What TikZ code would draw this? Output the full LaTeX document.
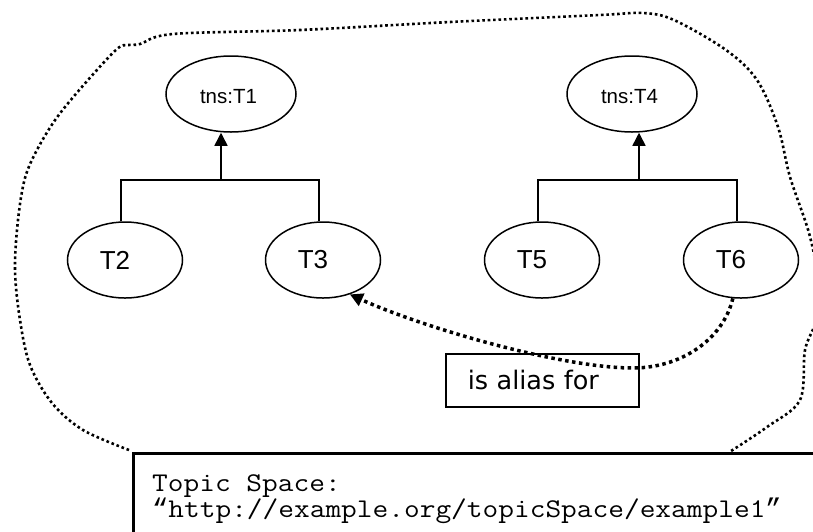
\documentclass[tikz,border=0pt]{standalone}
\usepackage{fontspec}
\usetikzlibrary{shapes.geometric,arrows.meta}
\newfontfamily\arialf{Liberation Sans}
\newfontfamily\verdf{DejaVu Sans}
\newfontfamily\courf[FakeStretch=1.13]{Latin Modern Mono}
\newfontfamily\quotef{Liberation Mono}
\newcommand{\myopenq}{{\quotef “}}
\newcommand{\mycloseq}{{\quotef ”}}
\begin{document}
\begin{tikzpicture}[x=1pt,y=-1pt,
  topic/.style={draw, ellipse, line width=1.5pt, minimum width=115pt, minimum height=76pt,
    inner sep=0pt, font=\arialf\fontsize{26}{26}\selectfont,
    execute at end node={\hspace*{20pt}}},
  roottopic/.style={draw, ellipse, line width=1.5pt, minimum width=130pt, minimum height=76pt,
    inner sep=0pt, font=\arialf\fontsize{20.5}{20.5}\selectfont, text height=20pt,
    execute at end node={\hspace*{5pt}}},
  tree/.style={line width=1.5pt},
  treearrow/.style={tree, -{Triangle[width=13pt,length=13pt]}},
  border/.style={line width=2.6pt, dash pattern=on 2.6pt off 2.8pt},
  aliasline/.style={line width=3.5pt, dash pattern=on 3.5pt off 3.5pt,
    -{Triangle[width=13pt,length=13pt]}},
  labelbox/.style={draw, line width=1.6pt, fill=white, anchor=north west,
    minimum width=193pt, minimum height=53pt, text width=149pt, inner xsep=22pt,
    inner ysep=0pt, align=left, font=\verdf\fontsize{25.5}{25.5}\selectfont},
  spacebox/.style={draw, line width=2.5pt, anchor=north west, minimum width=760pt,
    minimum height=150pt, inner sep=0pt},
  spacetext/.style={anchor=base west, inner sep=0pt, font=\courf\fontsize{27}{27}\selectfont},
]
\useasboundingbox (0,0) rectangle (813,531);
\clip (0,0) rectangle (813,531);

% topic space border
\draw[border] plot[smooth, tension=0.55] coordinates {
  (129,450) (83,430) (52,403) (30,365) (20,320) (15,270) (18,220) (25,178)
  (38,148) (58,116) (88,80) (117,49) (128,45) (140,44) (173,34) (300,30)
  (450,22) (600,15) (643,13) (674,20) (726,50) (757,80) (778,127) (790,177)
  (809,233) (818,280) (816,320) (805,350) (800,400) (767,427) (731,451)};

% topics
\node[roottopic] (t1) at (231,94) {tns:T1};
\node[roottopic] (t4) at (632,94) {tns:T4};
\node[topic] (t2) at (125,260) {T2};
\node[topic] (t3) at (323,260) {T3};
\node[topic] (t5) at (542,260) {T5};
\node[topic] (t6) at (741,260) {T6};

% hierarchy connectors
\coordinate (j1) at (221,180);
\coordinate (j2) at (639,180);
\draw[tree] ([xshift=-4pt]t2.north) |- (j1) -| ([xshift=-4pt]t3.north);
\draw[treearrow] (j1) -- (j1 |- t1.south);
\draw[tree] ([xshift=-4pt]t5.north) |- (j2) -| ([xshift=-4pt]t6.north);
\draw[treearrow] (j2) -- (j2 |- t4.south);

% alias label and connector
\node[labelbox] (alias) at (445,353) {is alias for};
\coordinate (bend) at (633,368);
\draw[aliasline] (t6.258) .. controls +(-10,42) and +(47,0) .. (bend)
  .. controls +(-73,0) and +(70,32) .. (t3.-52);

% topic space box
\node[spacebox] (space) at (132,452) {};
\node[spacetext] (line1) at (152,491) {Topic Space:};
\node[spacetext] (line2) at (152,517) {\myopenq http://example.org/topicSpace/example1\mycloseq};
\end{tikzpicture}
\end{document}
